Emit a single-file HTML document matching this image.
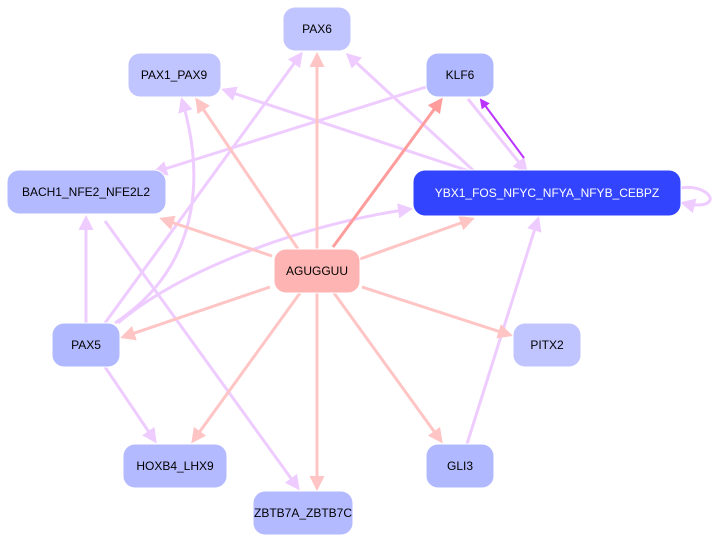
<!DOCTYPE html>
<html><head><meta charset="utf-8"><style>
html,body{margin:0;padding:0;background:#fff;width:713px;height:543px;overflow:hidden}
text{font-family:"Liberation Sans",sans-serif;font-size:12px;text-anchor:middle;dominant-baseline:central}
</style></head><body>
<svg width="713" height="543" viewBox="0 0 713 543">
<defs>
<marker id="p" markerWidth="5" markerHeight="5" refX="4" refY="2.5" orient="auto" markerUnits="strokeWidth"><path d="M0,0L5,2.5L0,5z" fill="#ffc4c4"/></marker>
<marker id="r" markerWidth="5" markerHeight="5" refX="4" refY="2.5" orient="auto" markerUnits="strokeWidth"><path d="M0,0L5,2.5L0,5z" fill="#ff9c9c"/></marker>
<marker id="l" markerWidth="5" markerHeight="5" refX="4" refY="2.5" orient="auto" markerUnits="strokeWidth"><path d="M0,0L5,2.5L0,5z" fill="#eeccff"/></marker>
<marker id="v" markerWidth="5" markerHeight="5" refX="4" refY="2.5" orient="auto" markerUnits="strokeWidth"><path d="M0,0L5,2.5L0,5z" fill="#bb33ff"/></marker>
</defs>
<g fill="none" stroke-width="3">
<g stroke="#eeccff" marker-end="url(#l)">
<line x1="475" y1="172" x2="348" y2="55"/>
<line x1="472" y1="172" x2="224" y2="90"/>
<line x1="426" y1="87" x2="155" y2="172"/>
<line x1="468" y1="99" x2="526" y2="171"/>
<path d="M681,188 C700,185 712,195 710,200 C708,206 695,206 683,203"/>
<path d="M118,323 C180,270 300,225 410,209"/>
<line x1="105" y1="323" x2="301" y2="54"/>
<path d="M115,323 C210,260 200,160 182,100"/>
<line x1="86" y1="323" x2="86" y2="218"/>
<line x1="105" y1="367" x2="155" y2="441"/>
<line x1="105" y1="221" x2="298" y2="488"/>
<line x1="467" y1="444" x2="538" y2="219"/>
</g>
<line x1="524" y1="158" x2="481" y2="100" stroke="#bb33ff" stroke-width="2" marker-end="url(#v)"/>
<g stroke="#ffc4c4" marker-end="url(#p)">
<line x1="317" y1="249" x2="317" y2="55"/>
<line x1="298" y1="249" x2="197" y2="100"/>
<line x1="272" y1="256" x2="162" y2="219"/>
<line x1="360" y1="259" x2="472" y2="219"/>
<line x1="270" y1="287" x2="123" y2="337"/>
<line x1="362" y1="287" x2="510" y2="335"/>
<line x1="300" y1="293" x2="193" y2="441"/>
<line x1="334" y1="293" x2="441" y2="441"/>
<line x1="317" y1="293" x2="317" y2="488"/>
</g>
<line x1="333" y1="247" x2="441" y2="100" stroke="#ff9c9c" marker-end="url(#r)"/>
</g>
<g stroke="#fff" stroke-width="1">
<rect x="283" y="7" width="68" height="44" rx="12" fill="#c0c4ff"/>
<rect x="128" y="53" width="93" height="44" rx="12" fill="#c0c4ff"/>
<rect x="426" y="53" width="68" height="44" rx="12" fill="#b0b8ff"/>
<rect x="7" y="170" width="159" height="44" rx="12" fill="#b4baff"/>
<rect x="413" y="170" width="268" height="46" rx="12" fill="#3344ff"/>
<rect x="274" y="249" width="86" height="44" rx="12" fill="#ffb4b4"/>
<rect x="52" y="323" width="68" height="44" rx="12" fill="#b0b8ff"/>
<rect x="513" y="323" width="68" height="44" rx="12" fill="#c0c4ff"/>
<rect x="123" y="444" width="104" height="44" rx="12" fill="#b4baff"/>
<rect x="426" y="444" width="68" height="44" rx="12" fill="#b0b8ff"/>
<rect x="253" y="491" width="100" height="44" rx="12" fill="#b4baff"/>
</g>
<text x="317" y="29">PAX6</text>
<text x="174" y="75">PAX1_PAX9</text>
<text x="460" y="75">KLF6</text>
<text x="86" y="192">BACH1_NFE2_NFE2L2</text>
<text x="547" y="193" fill="#fff">YBX1_FOS_NFYC_NFYA_NFYB_CEBPZ</text>
<text x="317" y="271">AGUGGUU</text>
<text x="86" y="345">PAX5</text>
<text x="547" y="345">PITX2</text>
<text x="175" y="466">HOXB4_LHX9</text>
<text x="460" y="466">GLI3</text>
<text x="303" y="513">ZBTB7A_ZBTB7C</text>
</svg>
</body></html>
